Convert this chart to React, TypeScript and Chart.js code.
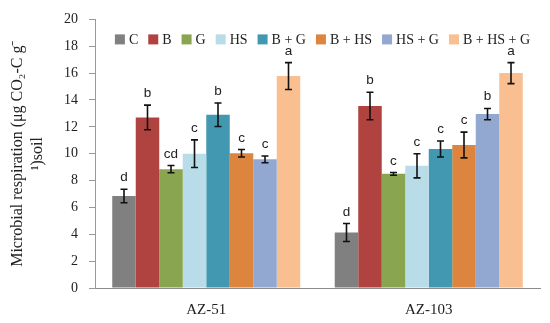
import React, { useEffect, useRef } from "react";
import { Chart, registerables } from "chart.js";

Chart.register(...registerables);

const categories = ["AZ-51", "AZ-103"];
const treatments = ["C", "B", "G", "HS", "B + G", "B + HS", "HS + G", "B + HS + G"];
const colors = ["#808080", "#b0423f", "#8aa54f", "#b8dde8", "#4298b0", "#dd853e", "#93a8d0", "#f9bf90"];

const valuesC = [6.85, 4.13];
const valuesB = [12.7, 13.55];
const valuesG = [8.85, 8.5];
const valuesHS = [10.0, 9.1];
const valuesBG = [12.9, 10.35];
const valuesBHS = [10.03, 10.65];
const valuesHSG = [9.58, 12.95];
const valuesBHSG = [15.78, 16.0];

const errorsC = [0.5, 0.67];
const errorsB = [0.92, 1.02];
const errorsG = [0.27, 0.1];
const errorsHS = [1.03, 0.9];
const errorsBG = [0.88, 0.6];
const errorsBHS = [0.28, 0.96];
const errorsHSG = [0.25, 0.42];
const errorsBHSG = [1.0, 0.78];

const lettersC = ["d", "d"];
const lettersB = ["b", "b"];
const lettersG = ["cd", "c"];
const lettersHS = ["c", "c"];
const lettersBG = ["b", "c"];
const lettersBHS = ["c", "c"];
const lettersHSG = ["c", "b"];
const lettersBHSG = ["a", "a"];

const yTicksMin = 0;
const yTicksMax = 20;
const yTicksStep = 2;

const allValues = [valuesC, valuesB, valuesG, valuesHS, valuesBG, valuesBHS, valuesHSG, valuesBHSG];
const allErrors = [errorsC, errorsB, errorsG, errorsHS, errorsBG, errorsBHS, errorsHSG, errorsBHSG];
const allLetters = [lettersC, lettersB, lettersG, lettersHS, lettersBG, lettersBHS, lettersHSG, lettersBHSG];

const errorBarPlugin = {
  id: "errorBars",
  afterDatasetsDraw(chart: any) {
    const ctx = chart.ctx;
    const yScale = chart.scales.y;
    ctx.save();
    chart.data.datasets.forEach((ds: any, i: number) => {
      const meta = chart.getDatasetMeta(i);
      meta.data.forEach((el: any, j: number) => {
        const v = ds.data[j];
        const e = ds.errors[j];
        const x = el.x;
        const yTop = yScale.getPixelForValue(v + e);
        const yBot = yScale.getPixelForValue(v - e);
        ctx.strokeStyle = "#111";
        ctx.lineWidth = 1.6;
        ctx.beginPath();
        ctx.moveTo(x, yTop);
        ctx.lineTo(x, yBot);
        ctx.moveTo(x - 3.5, yTop);
        ctx.lineTo(x + 3.5, yTop);
        ctx.moveTo(x - 3.5, yBot);
        ctx.lineTo(x + 3.5, yBot);
        ctx.stroke();
        ctx.fillStyle = "#222";
        ctx.font = "13.5px 'Liberation Sans', sans-serif";
        ctx.textAlign = "center";
        ctx.textBaseline = "alphabetic";
        ctx.fillText(ds.letters[j], x, yTop - 8);
      });
    });
    ctx.restore();
  },
};

const legendPlugin = {
  id: "innerLegend",
  afterDraw(chart: any) {
    const ctx = chart.ctx;
    const area = chart.chartArea;
    ctx.save();
    ctx.font = "14px 'Liberation Serif', serif";
    const box = 10;
    const gapBox = 4;
    const gapItem = 10;
    const items = chart.data.datasets.map((ds: any) => ({
      label: ds.label,
      color: ds.backgroundColor,
      w: ctx.measureText(ds.label).width,
    }));
    const total = items.reduce((s: number, it: any) => s + box + gapBox + it.w, 0) + gapItem * (items.length - 1);
    let x = 322.5 - total / 2;
    const y = area.top + 20;
    items.forEach((it: any) => {
      ctx.fillStyle = it.color;
      ctx.fillRect(x, y - box / 2, box, box);
      x += box + gapBox;
      ctx.fillStyle = "#222";
      ctx.textAlign = "left";
      ctx.textBaseline = "middle";
      ctx.fillText(it.label, x, y + 1);
      x += it.w + gapItem;
    });
    ctx.restore();
  },
};

export default function App() {
  const canvasRef = useRef<HTMLCanvasElement | null>(null);

  useEffect(() => {
    if (!canvasRef.current) return;
    const chart = new Chart(canvasRef.current, {
      type: "bar",
      data: {
        labels: categories,
        datasets: treatments.map((t, i) => ({
          label: t,
          data: allValues[i],
          errors: allErrors[i],
          letters: allLetters[i],
          backgroundColor: colors[i],
          borderWidth: 0,
          barPercentage: 1,
          categoryPercentage: 0.845,
        })) as any,
      },
      options: {
        animation: false,
        responsive: true,
        maintainAspectRatio: false,
        layout: { padding: { left: 0, right: 10, top: 12, bottom: 0 } },
        plugins: {
          legend: { display: false },
          tooltip: { enabled: false },
        },
        scales: {
          x: {
            grid: { display: false, drawTicks: false },
            border: { display: true, color: "#8c8c8c", width: 1 },
            ticks: {
              color: "#222",
              padding: 13,
              font: { family: "'Liberation Serif', serif", size: 15 },
            },
            afterFit(scale: any) {
              scale.height = 35;
            },
          },
          y: {
            min: yTicksMin,
            max: yTicksMax,
            ticks: {
              stepSize: yTicksStep,
              color: "#222",
              padding: 11,
              font: { family: "'Liberation Serif', serif", size: 14 },
            },
            grid: { drawOnChartArea: false, drawTicks: true, tickLength: 6, color: "#999" },
            border: { display: true, color: "#999", width: 1 },
            title: {
              display: true,
              text: ["Microbial respiration (μg CO₂-C g⁻", "¹)soil"],
              color: "#222",
              padding: { top: 7, bottom: 0 },
              font: { family: "'Liberation Serif', serif", size: 16, lineHeight: 1.3 },
            },
            afterFit(scale: any) {
              scale.width = 95;
            },
          },
        },
      },
      plugins: [errorBarPlugin, legendPlugin],
    });
    return () => chart.destroy();
  }, []);

  return (
    <div style={{ position: "absolute", left: 0, top: 0, width: 550, height: 323, background: "#fff" }}>
      <canvas ref={canvasRef} />
    </div>
  );
}
